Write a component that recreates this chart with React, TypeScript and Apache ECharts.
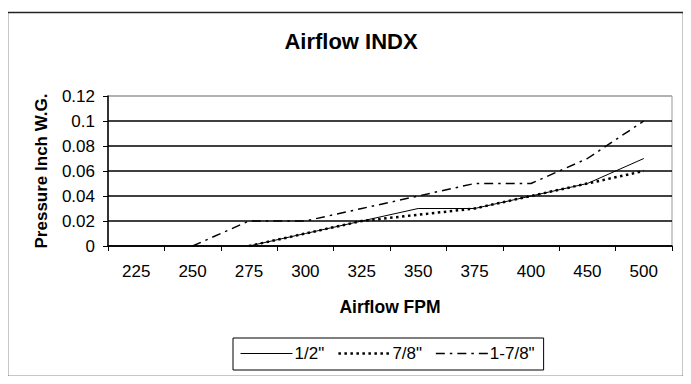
import React, { useEffect, useRef } from "react";
import * as echarts from "echarts";

const categories = ["225", "250", "275", "300", "325", "350", "375", "400", "450", "500"];
const seriesNames = ['1/2"', '7/8"', '1-7/8"'];
const halfInch = [null, null, 0, 0.01, 0.02, 0.03, 0.03, 0.04, 0.05, 0.07];
const sevenEighths = [null, null, 0, 0.01, 0.02, 0.025, 0.03, 0.04, 0.05, 0.06];
const oneSevenEighths = [null, 0, 0.02, 0.02, 0.03, 0.04, 0.05, 0.05, 0.07, 0.1];

const FONT = "Liberation Sans, Arial, sans-serif";
const lineWidths = [1, 2.5, 1.5];

export default function App() {
  const ref = useRef<HTMLDivElement>(null);
  useEffect(() => {
    if (!ref.current) return;
    const chart = echarts.init(ref.current, undefined, { renderer: "svg" });
    chart.setOption({
      animation: false,
      backgroundColor: "#fff",
      textStyle: { fontFamily: FONT, color: "#000" },
      graphic: [
        {
          type: "rect",
          shape: { x: 7.5, y: 12.5, width: 676, height: 364 },
          style: { fill: "none", stroke: "#222", lineWidth: 1.5 },
          silent: true,
          z: -10,
        },
      ],
      title: {
        text: "Airflow INDX",
        left: 346,
        textAlign: "center",
        top: 25,
        textStyle: { fontFamily: FONT, fontSize: 22, fontWeight: "bold", color: "#000" },
      },
      legend: {
        left: 233,
        top: 338,
        data: seriesNames.map((n, i) => ({ name: n, lineStyle: { width: lineWidths[i] } })),
        itemWidth: 52,
        itemHeight: 13,
        itemGap: 13,
        padding: [7, 9, 8, 7],
        borderColor: "#000",
        borderWidth: 1,
        itemStyle: { opacity: 0 },
        textStyle: { fontFamily: FONT, fontSize: 17, color: "#000", padding: [0, 0, 0, -3] },
      },
      grid: {
        left: 108,
        right: 19,
        top: 96,
        bottom: 138,
        show: true,
        borderColor: "#999",
        borderWidth: 1,
        containLabel: false,
      },
      xAxis: {
        type: "category",
        data: categories,
        boundaryGap: true,
        name: "Airflow FPM",
        nameLocation: "middle",
        nameGap: 52,
        nameTextStyle: { fontFamily: FONT, fontSize: 17.5, fontWeight: "bold", color: "#000" },
        axisLine: { lineStyle: { color: "#000", width: 1.5 } },
        axisTick: { show: true, alignWithLabel: false, length: 5, lineStyle: { color: "#000" } },
        axisLabel: { fontFamily: FONT, fontSize: 17, color: "#000", margin: 17 },
        splitLine: { show: false },
      },
      yAxis: {
        type: "value",
        min: 0,
        max: 0.12,
        interval: 0.02,
        name: "Pressure Inch W.G.",
        nameLocation: "middle",
        nameRotate: 90,
        nameGap: 58,
        nameTextStyle: { fontFamily: FONT, fontSize: 17, fontWeight: "bold", color: "#000" },
        axisLine: { show: true, lineStyle: { color: "#000", width: 1.5 } },
        axisTick: { show: true, length: 5, lineStyle: { color: "#000" } },
        axisLabel: { fontFamily: FONT, fontSize: 17, color: "#000", margin: 13 },
        splitLine: {
          show: true,
          lineStyle: { color: ["#000", "#000", "#000", "#000", "#000", "#000", "#aaa"], width: 1.5 },
        },
      },
      series: [
        {
          name: seriesNames[0],
          type: "line",
          data: halfInch,
          symbol: "none",
          lineStyle: { color: "#000", width: lineWidths[0], type: "solid" },
          itemStyle: { color: "#000" },
        },
        {
          name: seriesNames[1],
          type: "line",
          data: sevenEighths,
          symbol: "none",
          lineStyle: { color: "#000", width: lineWidths[1], type: [2.5, 3.5] },
          itemStyle: { color: "#000" },
        },
        {
          name: seriesNames[2],
          type: "line",
          data: oneSevenEighths,
          symbol: "none",
          lineStyle: { color: "#000", width: lineWidths[2], type: [9, 5, 2.5, 5] },
          itemStyle: { color: "#000" },
        },
      ],
    });
    return () => chart.dispose();
  }, []);
  return <div ref={ref} style={{ width: 691, height: 384, margin: -8 }} />;
}
